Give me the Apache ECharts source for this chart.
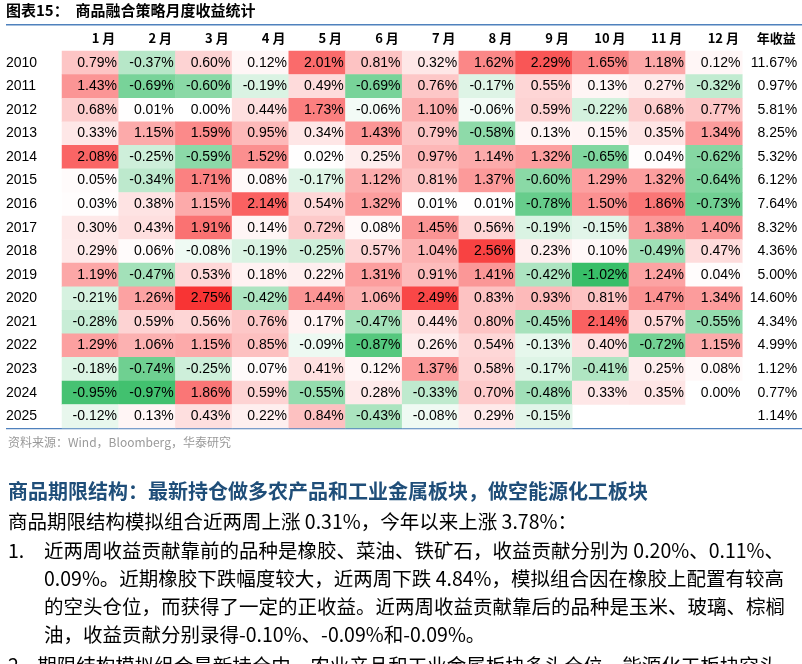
<!DOCTYPE html>
<html><head><meta charset="utf-8">
<script src="https://cdn.jsdelivr.net/npm/echarts@6/dist/echarts.min.js"></script>
<style>html,body{margin:0;background:#fff}#c{width:802px;height:664px}</style>
</head><body><div id="c"></div>
<script>
var months = ['1 月','2 月','3 月','4 月','5 月','6 月','7 月','8 月','9 月','10 月','11 月','12 月','年收益'];
var years = ['2010','2011','2012','2013','2014','2015','2016','2017','2018','2019','2020','2021','2022','2023','2024','2025'];
var r2010 = [0.79,-0.37,0.60,0.12,2.01,0.81,0.32,1.62,2.29,1.65,1.18,0.12];
var r2011 = [1.43,-0.69,-0.60,-0.19,0.49,-0.69,0.76,-0.17,0.55,0.13,0.27,-0.32];
var r2012 = [0.68,0.01,0.00,0.44,1.73,-0.06,1.10,-0.06,0.59,-0.22,0.68,0.77];
var r2013 = [0.33,1.15,1.59,0.95,0.34,1.43,0.79,-0.58,0.13,0.15,0.35,1.34];
var r2014 = [2.08,-0.25,-0.59,1.52,0.02,0.25,0.97,1.14,1.32,-0.65,0.04,-0.62];
var r2015 = [0.05,-0.34,1.71,0.08,-0.17,1.12,0.81,1.37,-0.60,1.29,1.32,-0.64];
var r2016 = [0.03,0.38,1.15,2.14,0.54,1.32,0.01,0.01,-0.78,1.50,1.86,-0.73];
var r2017 = [0.30,0.43,1.91,0.14,0.72,0.08,1.45,0.56,-0.19,-0.15,1.38,1.40];
var r2018 = [0.29,0.06,-0.08,-0.19,-0.25,0.57,1.04,2.56,0.23,0.10,-0.49,0.47];
var r2019 = [1.19,-0.47,0.53,0.18,0.22,1.31,0.91,1.41,-0.42,-1.02,1.24,0.04];
var r2020 = [-0.21,1.26,2.75,-0.42,1.44,1.06,2.49,0.83,0.93,0.81,1.47,1.34];
var r2021 = [-0.28,0.59,0.56,0.76,0.17,-0.47,0.44,0.80,-0.45,2.14,0.57,-0.55];
var r2022 = [1.29,1.06,1.15,0.85,-0.09,-0.87,0.26,0.54,-0.13,0.40,-0.72,1.15];
var r2023 = [-0.18,-0.74,-0.25,0.07,0.41,0.12,1.37,0.58,-0.17,-0.41,0.25,0.08];
var r2024 = [-0.95,-0.97,1.86,0.59,-0.55,0.28,-0.33,0.70,-0.48,0.33,0.35,0.00];
var r2025 = [-0.12,0.13,0.43,0.22,0.84,-0.43,-0.08,0.29,-0.15,null,null,null];
var annual = [11.67,0.97,5.81,8.25,5.32,6.12,7.64,8.32,4.36,5.00,14.60,4.34,4.99,1.12,0.77,1.14];
var rows = [r2010,r2011,r2012,r2013,r2014,r2015,r2016,r2017,r2018,r2019,r2020,r2021,r2022,r2023,r2024,r2025];

function mix(a, b, t) {
  t = Math.max(0, Math.min(1, t));
  return 'rgb(' + a.map(function (v, i) { return Math.round(v + (b[i] - v) * t); }).join(',') + ')';
}
function cellColor(v) {
  if (v >= 0) return mix([255,255,255], [248,52,52], v / 2.75);
  return mix([255,255,255], [56,190,104], -v / 1.02);
}

var monthData = [];
var annualData = [];
rows.forEach(function (r, yi) {
  r.forEach(function (v, mi) {
    if (v === null) return;
    monthData.push({ value: [mi, yi, v], itemStyle: { color: cellColor(v) } });
  });
  annualData.push([12, yi, annual[yi]]);
});

var labelCfg = {
  show: true, position: 'insideRight', distance: 2, fontSize: 14,
  fontFamily: 'Liberation Sans, Arial', color: '#000',
  formatter: function (p) { return p.value[2].toFixed(2) + '%'; }
};

var body = 'Noto Sans CJK SC';
var chart = echarts.init(document.getElementById('c'));
chart.setOption({
  animation: false,
  grid: { left: 62, right: 3, top: 51, height: 377 },
  xAxis: {
    type: 'category', data: months, position: 'top',
    axisLine: { show: false }, axisTick: { show: false }, splitLine: { show: false },
    axisLabel: { fontSize: 13, fontWeight: 'bold', color: '#000', fontFamily: body, margin: 6,
      align: 'center', interval: 0,
      formatter: function (v) { return '{a|' + v + '}'; },
      rich: { a: { width: 50, align: 'right', fontSize: 13, fontWeight: 'bold', fontFamily: body } } }
  },
  yAxis: {
    type: 'category', data: years, inverse: true,
    axisLine: { show: false }, axisTick: { show: false }, splitLine: { show: false },
    axisLabel: { fontSize: 14, color: '#000', fontFamily: 'Liberation Sans, Arial',
      align: 'left', margin: 56 }
  },
  series: [
    { type: 'heatmap', data: monthData, label: labelCfg },
    { type: 'heatmap', data: annualData, itemStyle: { color: 'rgba(0,0,0,0)' }, label: labelCfg }
  ],
  graphic: [
    { type: 'text', left: 6, top: 3, style: { text: '图表15：  商品融合策略月度收益统计', font: 'bold 15px "Noto Sans CJK SC"', fill: '#000' } },
    { type: 'rect', shape: { x: 6, y: 24, width: 796, height: 1.5 }, style: { fill: '#4f81bd' } },
    { type: 'rect', shape: { x: 6, y: 428, width: 796, height: 1.2 }, style: { fill: '#4f81bd' } },
    { type: 'text', left: 8, top: 436, style: { text: '资料来源：Wind，Bloomberg，华泰研究', font: '12px "Noto Sans CJK SC"', fill: '#999' } },
    { type: 'text', left: 8, top: 481, style: { text: '商品期限结构：最新持仓做多农产品和工业金属板块，做空能源化工板块', font: 'bold 20px "Noto Sans CJK SC"', fill: '#1f4e79' } },
    { type: 'text', left: 8, top: 512, style: { text: '商品期限结构模拟组合近两周上涨 0.31%，今年以来上涨 3.78%：', font: '19.5px "Noto Sans CJK SC"', fill: '#000' } },
    { type: 'text', left: 8, top: 541, style: { text: '1.', font: '19.5px "Noto Sans CJK SC"', fill: '#000' } },
    { type: 'text', left: 44, top: 541, style: { text: '近两周收益贡献靠前的品种是橡胶、菜油、铁矿石，收益贡献分别为 0.20%、0.11%、', font: '19.5px "Noto Sans CJK SC"', fill: '#000' } },
    { type: 'text', left: 44, top: 569, style: { text: '0.09%。近期橡胶下跌幅度较大，近两周下跌 4.84%，模拟组合因在橡胶上配置有较高', font: '19.5px "Noto Sans CJK SC"', fill: '#000' } },
    { type: 'text', left: 44, top: 597, style: { text: '的空头仓位，而获得了一定的正收益。近两周收益贡献靠后的品种是玉米、玻璃、棕榈', font: '19.5px "Noto Sans CJK SC"', fill: '#000' } },
    { type: 'text', left: 44, top: 625, style: { text: '油，收益贡献分别录得-0.10%、-0.09%和-0.09%。', font: '19.5px "Noto Sans CJK SC"', fill: '#000' } },
    { type: 'text', left: 8, top: 656, style: { text: '2.   期限结构模拟组合最新持仓中，农业产品和工业金属板块多头仓位，能源化工板块空头', font: '19.5px "Noto Sans CJK SC"', fill: '#000' } }
  ]
});
</script></body></html>
